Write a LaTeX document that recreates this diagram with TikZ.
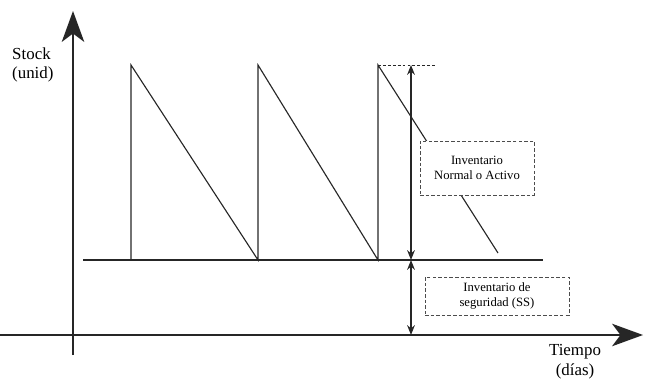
\documentclass[tikz,border=0pt]{standalone}
\usepackage{fontspec}
\setmainfont{Liberation Serif}
\usetikzlibrary{arrows.meta}

\tikzset{
  axis/.style={-{Stealth[length=22pt, width=16pt, inset=6pt]}, line width=0.9pt},
  level/.style={{Stealth[length=7pt, width=5.5pt]}-{Stealth[length=7pt, width=5.5pt]}, line width=0.9pt},
  labelbox/.style={draw=black!70, line width=0.6pt, fill=white, dashed, dash pattern=on 2.5pt off 1.5pt, align=center, inner sep=2pt, font=\small},
}

\begin{document}
\begin{tikzpicture}[x=0.025cm, y=-0.025cm, line width=0.8pt, draw=black!85]
  \useasboundingbox (0,0) rectangle (645,381);

  % axes
  \coordinate (ybottom) at (73,355);
  \coordinate (ytop) at (73,11);
  \coordinate (xleft) at (0,335);
  \coordinate (xright) at (643,335);
  \draw[axis] (ybottom) -- (ytop);
  \draw[axis] (xleft) -- (xright);

  \node[align=left, anchor=west, font=\large] at (7,65) (stock) {Stock\\(unid)};
  \node[align=center, font=\large] at (575,362) (tiempo) {Tiempo\\(días)};

  % safety stock level
  \coordinate (ssleft) at (83,260);
  \coordinate (ssright) at (543,260);
  \draw (ssleft) -- (ssright);

  % saw teeth
  \draw (131,260) -- (131,65) -- (258,260) -- (258,65) -- (378,260) -- (378,65) -- (498,253);
  \coordinate (peak) at (378,65);
  \coordinate (peakend) at (436,65);
  \draw[dashed, dash pattern=on 2pt off 1.5pt, line width=0.4pt] (peak) -- (peakend);

  % levels
  \coordinate (top) at (411,65);
  \coordinate (ss) at (411,260);
  \coordinate (base) at (411,335);
  \draw[level] (top) -- (ss);
  \draw[level] (ss) -- (base);

  \node[labelbox, minimum width=2.85cm, minimum height=1.35cm] at (477,168) (normal) {Inventario\\Normal o Activo};
  \node[labelbox, minimum width=3.6cm, minimum height=0.95cm] at (497,296) (safety) {Inventario de\\seguridad (SS)};
\end{tikzpicture}
\end{document}
